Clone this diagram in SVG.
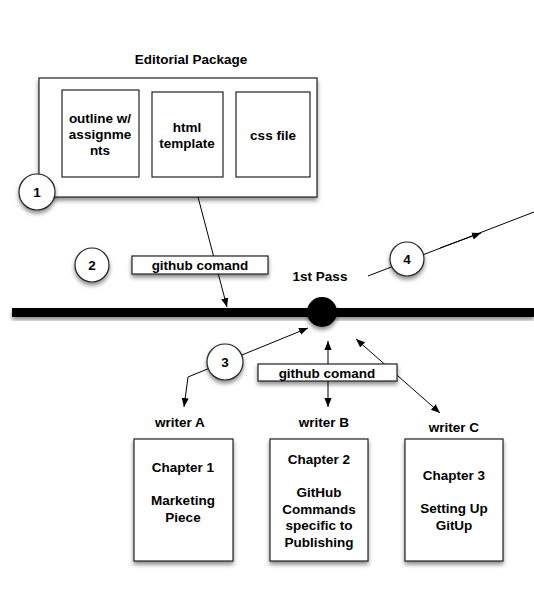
<svg xmlns="http://www.w3.org/2000/svg" width="534" height="610" viewBox="0 0 534 610">
<defs>
<filter id="sh" x="-20%" y="-20%" width="140%" height="160%">
<feDropShadow dx="0" dy="3" stdDeviation="2" flood-color="#000" flood-opacity="0.45"/>
</filter>
<marker id="ah" viewBox="0 0 10 10" refX="10" refY="5" markerWidth="9" markerHeight="9" markerUnits="userSpaceOnUse" orient="auto-start-reverse">
<path d="M0,1 L10,5 L0,9 Z" fill="#000"/>
</marker>
<style>
text{font-family:"Liberation Sans",Arial,sans-serif;font-weight:bold;font-size:13.5px;fill:#000;text-anchor:middle}
.box{fill:#fff;stroke:#222;stroke-width:1.2}
.circ{fill:#fff;stroke:#222;stroke-width:1.2}
.con{fill:none;stroke:#000;stroke-width:1}
</style>
</defs>
<text x="191" y="64">Editorial Package</text>
<g id="editorial-package">
<rect class="box" x="39" y="78" width="278" height="119" filter="url(#sh)"/>
</g>
<g id="outline">
<rect class="box" x="62" y="90" width="77" height="87"/>
<text x="100" y="123">outline w/</text>
<text x="100" y="139">assignme</text>
<text x="100" y="155">nts</text>
</g>
<g id="html-template">
<rect class="box" x="152" y="92" width="71" height="85"/>
<text x="187" y="132">html</text>
<text x="187" y="148">template</text>
</g>
<g id="css-file">
<rect class="box" x="236" y="92" width="74" height="85"/>
<text x="273" y="140">css file</text>
</g>
<g id="bar">
<rect x="12" y="308" width="522" height="9" fill="#000" filter="url(#sh)"/>
</g>
<g id="connectors">
<line class="con" x1="198" y1="197" x2="227" y2="307" marker-end="url(#ah)"/>
<polyline class="con" points="368,276 534,212"/>
<path class="con" d="M440,248 L481,233" marker-end="url(#ah)"/>
<polyline class="con" points="184,407 188,377 308,328" marker-start="url(#ah)" marker-end="url(#ah)"/>
<line class="con" x1="328" y1="341" x2="328" y2="407" marker-start="url(#ah)" marker-end="url(#ah)"/>
<line class="con" x1="356" y1="339" x2="440" y2="413" marker-start="url(#ah)" marker-end="url(#ah)"/>
</g>
<g id="pass-node">
<circle cx="322" cy="312" r="15" fill="#000" filter="url(#sh)"/>
<text x="320" y="281">1st Pass</text>
</g>
<g id="label-cmd1">
<rect class="box" x="132" y="256" width="136" height="18" filter="url(#sh)"/>
<text x="200" y="270">github comand</text>
</g>
<g id="label-cmd2">
<rect class="box" x="258" y="364" width="139" height="17" filter="url(#sh)"/>
<text x="327" y="378">github comand</text>
</g>
<g id="step1">
<circle class="circ" cx="37" cy="192" r="18" filter="url(#sh)"/>
<text x="37" y="197">1</text>
</g>
<g id="step2">
<circle class="circ" cx="92" cy="265" r="17" filter="url(#sh)"/>
<text x="92" y="270">2</text>
</g>
<g id="step3">
<circle class="circ" cx="225" cy="362" r="18" filter="url(#sh)"/>
<text x="225" y="367">3</text>
</g>
<g id="step4">
<circle class="circ" cx="407" cy="259" r="17" filter="url(#sh)"/>
<text x="407" y="264">4</text>
</g>
<g id="writer-a">
<text x="180" y="427">writer A</text>
</g>
<g id="writer-b">
<text x="324" y="427">writer B</text>
</g>
<g id="writer-c">
<text x="454" y="432">writer C</text>
</g>
<g id="chapter1">
<rect class="box" x="134" y="439" width="99" height="122" filter="url(#sh)"/>
<text x="183" y="472">Chapter 1</text>
<text x="183" y="505">Marketing</text>
<text x="183" y="522">Piece</text>
</g>
<g id="chapter2">
<rect class="box" x="270" y="439" width="98" height="122" filter="url(#sh)"/>
<text x="319" y="464">Chapter 2</text>
<text x="319" y="497">GitHub</text>
<text x="319" y="514">Commands</text>
<text x="319" y="530">specific to</text>
<text x="319" y="547">Publishing</text>
</g>
<g id="chapter3">
<rect class="box" x="405" y="439" width="98" height="122" filter="url(#sh)"/>
<text x="454" y="480">Chapter 3</text>
<text x="454" y="513">Setting Up</text>
<text x="454" y="530">GitUp</text>
</g>
</svg>
